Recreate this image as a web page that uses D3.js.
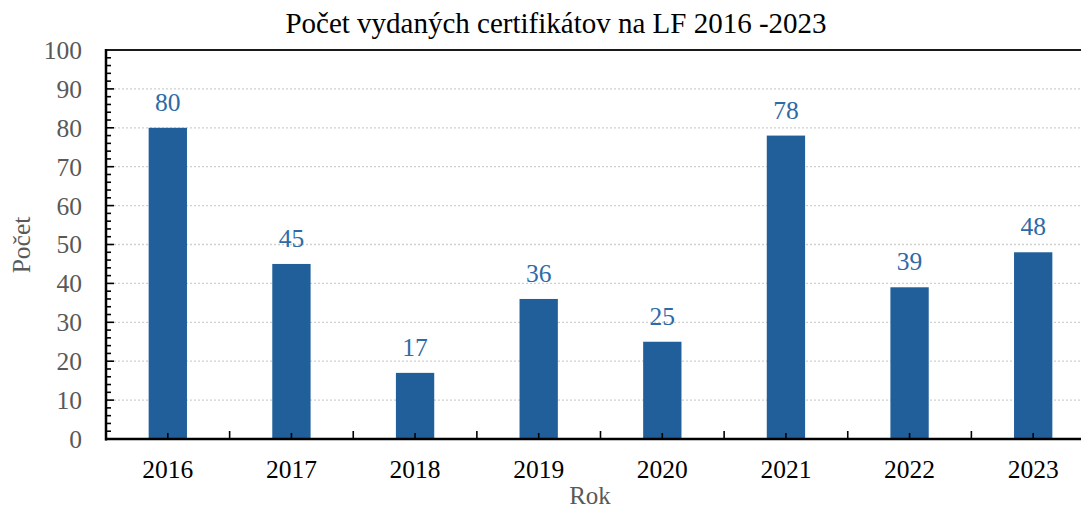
<!DOCTYPE html>
<html>
<head>
<meta charset="utf-8">
<script src="https://cdn.jsdelivr.net/npm/d3@7"></script>
<style>
  body { margin: 0; background: #fff; }
  svg { display: block; font-family: "Liberation Serif", "Times New Roman", serif; }
</style>
</head>
<body>
<svg id="chart" width="1081" height="510"></svg>
<script>
var years = ["2016", "2017", "2018", "2019", "2020", "2021", "2022", "2023"];
var counts = [80, 45, 17, 36, 25, 78, 39, 48];
var yTicks = [0, 10, 20, 30, 40, 50, 60, 70, 80, 90, 100];
var titleText = "Počet vydaných certifikátov na LF 2016 -2023";

var svg = d3.select("#chart");

// plot box (right side runs past the window edge, as in the picture)
var plotLeft = 106, plotRight = 1095, plotTop = 50, plotBottom = 439;

var x = d3.scaleBand()
    .domain(years)
    .range([plotLeft, plotRight])
    .paddingInner(0)
    .paddingOuter(0);

var y = d3.scaleLinear()
    .domain([0, 100])
    .range([plotBottom, plotTop]);

var barW = x.bandwidth() * 0.31;

// grid
svg.append("g")
    .selectAll("line")
    .data(yTicks.filter(function(d){ return d > 0 && d < 100; }))
    .join("line")
    .attr("x1", plotLeft)
    .attr("x2", plotRight)
    .attr("y1", function(d){ return y(d); })
    .attr("y2", function(d){ return y(d); })
    .attr("stroke", "#d0d0d0")
    .attr("stroke-width", 1.3)
    .attr("stroke-dasharray", "2,2");

// bars
svg.append("g")
    .selectAll("rect")
    .data(counts)
    .join("rect")
    .attr("x", function(d, i){ return x(years[i]) + x.bandwidth()/2 - barW/2; })
    .attr("y", function(d){ return y(d); })
    .attr("width", barW)
    .attr("height", function(d){ return y(0) - y(d); })
    .attr("fill", "#215f9a");

// value labels
svg.append("g")
    .selectAll("text")
    .data(counts)
    .join("text")
    .attr("x", function(d, i){ return x(years[i]) + x.bandwidth()/2; })
    .attr("y", function(d){ return y(d) - 17; })
    .attr("text-anchor", "middle")
    .attr("font-size", 25.5)
    .attr("fill", "#2e6aa6")
    .text(function(d){ return d; });

// y axis: major + minor ticks pointing inward
var minor = d3.range(0, 101, 2);
svg.append("g")
    .selectAll("line")
    .data(minor)
    .join("line")
    .attr("x1", plotLeft)
    .attr("x2", function(d){ return plotLeft + (d % 10 === 0 ? 8 : 5); })
    .attr("y1", function(d){ return y(d); })
    .attr("y2", function(d){ return y(d); })
    .attr("stroke", "#000")
    .attr("stroke-width", 1.6);

svg.append("g")
    .selectAll("text")
    .data(yTicks)
    .join("text")
    .attr("x", 82)
    .attr("y", function(d){ return y(d); })
    .attr("dy", "0.35em")
    .attr("text-anchor", "end")
    .attr("font-size", 25.5)
    .attr("fill", "#595959")
    .text(function(d){ return d; });

// x axis ticks: short at centres, longer at boundaries
svg.append("g")
    .selectAll("line")
    .data(years)
    .join("line")
    .attr("x1", function(d){ return x(d) + x.bandwidth()/2; })
    .attr("x2", function(d){ return x(d) + x.bandwidth()/2; })
    .attr("y1", plotBottom)
    .attr("y2", plotBottom - 6)
    .attr("stroke", "#000")
    .attr("stroke-width", 1.6);

svg.append("g")
    .selectAll("line")
    .data(years.slice(1))
    .join("line")
    .attr("x1", function(d){ return x(d); })
    .attr("x2", function(d){ return x(d); })
    .attr("y1", plotBottom)
    .attr("y2", plotBottom - 8)
    .attr("stroke", "#000")
    .attr("stroke-width", 1.6);

svg.append("g")
    .selectAll("text")
    .data(years)
    .join("text")
    .attr("x", function(d){ return x(d) + x.bandwidth()/2; })
    .attr("y", 478)
    .attr("text-anchor", "middle")
    .attr("font-size", 25.5)
    .attr("fill", "#000")
    .text(function(d){ return d; });

// frame lines
svg.append("line")
    .attr("x1", plotLeft).attr("x2", plotRight)
    .attr("y1", plotTop).attr("y2", plotTop)
    .attr("stroke", "#1a1a1a").attr("stroke-width", 2);
svg.append("line")
    .attr("x1", plotLeft).attr("x2", plotLeft)
    .attr("y1", plotTop - 1).attr("y2", plotBottom + 1.5)
    .attr("stroke", "#000").attr("stroke-width", 2.5);
svg.append("line")
    .attr("x1", plotLeft - 1).attr("x2", plotRight)
    .attr("y1", plotBottom).attr("y2", plotBottom)
    .attr("stroke", "#000").attr("stroke-width", 2.5);

// titles
svg.append("text")
    .attr("x", 556)
    .attr("y", 33)
    .attr("text-anchor", "middle")
    .attr("font-size", 29)
    .attr("fill", "#000")
    .text(titleText);

svg.append("text")
    .attr("transform", "translate(30,245) rotate(-90)")
    .attr("text-anchor", "middle")
    .attr("font-size", 25.5)
    .attr("fill", "#595959")
    .text("Počet");

svg.append("text")
    .attr("x", 590)
    .attr("y", 504)
    .attr("text-anchor", "middle")
    .attr("font-size", 25)
    .attr("fill", "#595959")
    .text("Rok");
</script>
</body>
</html>
